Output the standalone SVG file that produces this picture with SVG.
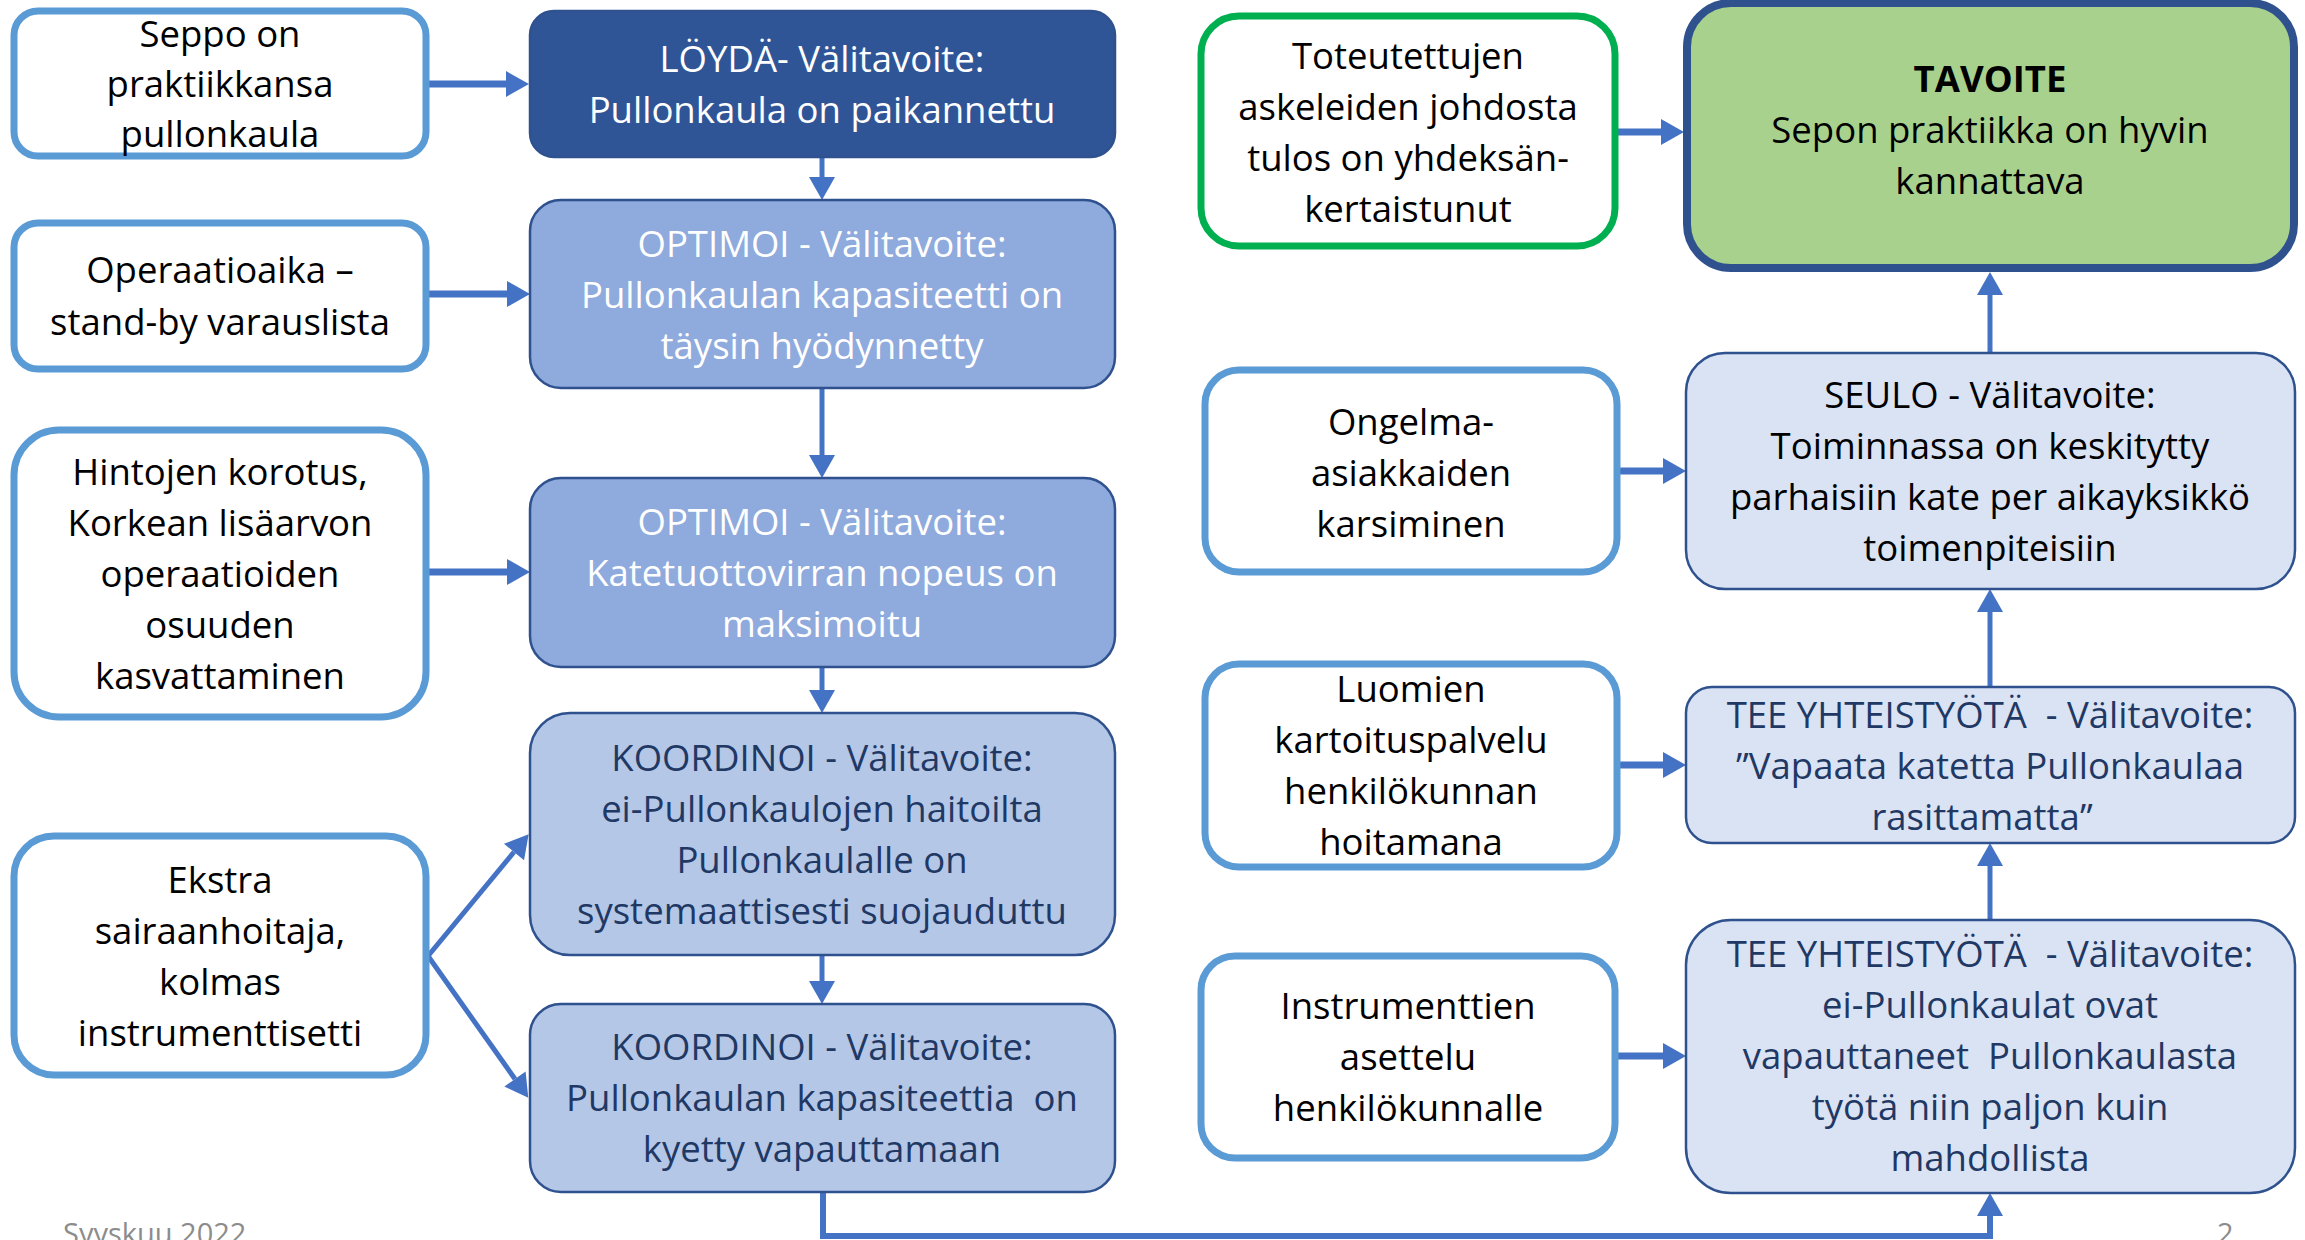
<svg xmlns="http://www.w3.org/2000/svg" width="2305" height="1240" viewBox="0 0 2305 1240">
<defs>
<style>
text{font-family:"Open Sans","Liberation Sans",sans-serif;font-size:36.5px;text-anchor:middle}
.w{fill:#ffffff}.k{fill:#000000}.n{fill:#1F3864}
.inp{fill:#ffffff;stroke:#5B9BD5;stroke-width:7}
.grn{fill:#ffffff;stroke:#00B050;stroke-width:7}
.s1{fill:#2F5597;stroke:#2F528F;stroke-width:2.5}
.s2{fill:#8FAADC;stroke:#2F528F;stroke-width:2.5}
.s3{fill:#B4C7E7;stroke:#2F528F;stroke-width:2.5}
.s4{fill:#DAE3F3;stroke:#2F528F;stroke-width:2.5}
.goal{fill:#A9D18E;stroke:#2F528F;stroke-width:8}
.c{fill:none;stroke:#4472C4}
.t{stroke-width:7}.m{stroke-width:5}
.foot{fill:#8C8C8C;font-size:29px;text-anchor:start}
</style>
<marker id="ah" markerUnits="userSpaceOnUse" markerWidth="24" markerHeight="26" refX="0" refY="13" orient="auto" overflow="visible">
<path d="M0,0 L23,13 L0,26 z" fill="#4472C4"/>
</marker>
</defs>

<g id="connectors">
<line class="c t" x1="429" y1="84" x2="506" y2="84" marker-end="url(#ah)"/>
<line class="c t" x1="429" y1="294" x2="507" y2="294" marker-end="url(#ah)"/>
<line class="c t" x1="429" y1="572" x2="507" y2="572" marker-end="url(#ah)"/>
<line class="c m" x1="822" y1="157" x2="822" y2="177" marker-end="url(#ah)"/>
<line class="c m" x1="822" y1="388" x2="822" y2="455" marker-end="url(#ah)"/>
<line class="c m" x1="822" y1="667" x2="822" y2="690" marker-end="url(#ah)"/>
<line class="c m" x1="822" y1="955" x2="822" y2="981" marker-end="url(#ah)"/>
<line class="c m" x1="428" y1="956" x2="514" y2="852" marker-end="url(#ah)"/>
<line class="c m" x1="428" y1="956" x2="515" y2="1079" marker-end="url(#ah)"/>
<path class="c" stroke-width="6" d="M823,1192 V1236 H1990 V1216" marker-end="url(#ah)"/>
<line class="c t" x1="1618" y1="132" x2="1661" y2="132" marker-end="url(#ah)"/>
<line class="c t" x1="1620" y1="471" x2="1663" y2="471" marker-end="url(#ah)"/>
<line class="c t" x1="1620" y1="765" x2="1663" y2="765" marker-end="url(#ah)"/>
<line class="c t" x1="1618" y1="1056" x2="1663" y2="1056" marker-end="url(#ah)"/>
<line class="c m" x1="1990" y1="353" x2="1990" y2="295" marker-end="url(#ah)"/>
<line class="c m" x1="1990" y1="687" x2="1990" y2="612" marker-end="url(#ah)"/>
<line class="c m" x1="1990" y1="920" x2="1990" y2="866" marker-end="url(#ah)"/>
</g>

<g id="seppo">
<rect class="inp" x="14" y="11" width="412" height="145" rx="24"/>
<text class="k" x="220" y="47">Seppo on</text>
<text class="k" x="220" y="97">praktiikkansa</text>
<text class="k" x="220" y="147">pullonkaula</text>
</g>
<g id="operaatioaika">
<rect class="inp" x="14" y="223" width="412" height="146" rx="24"/>
<text class="k" x="220" y="283">Operaatioaika –</text>
<text class="k" x="220" y="335">stand-by varauslista</text>
</g>
<g id="hintojen">
<rect class="inp" x="14" y="430" width="412" height="287" rx="45"/>
<text class="k" x="220" y="485">Hintojen korotus,</text>
<text class="k" x="220" y="536">Korkean lisäarvon</text>
<text class="k" x="220" y="587">operaatioiden</text>
<text class="k" x="220" y="638">osuuden</text>
<text class="k" x="220" y="689">kasvattaminen</text>
</g>
<g id="ekstra">
<rect class="inp" x="14" y="836" width="412" height="239" rx="40"/>
<text class="k" x="220" y="893">Ekstra</text>
<text class="k" x="220" y="944">sairaanhoitaja,</text>
<text class="k" x="220" y="995">kolmas</text>
<text class="k" x="220" y="1046">instrumenttisetti</text>
</g>

<g id="loyda">
<rect class="s1" x="530" y="11" width="585" height="146" rx="24"/>
<text class="w" x="822" y="72">LÖYDÄ- Välitavoite:</text>
<text class="w" x="822" y="123">Pullonkaula on paikannettu</text>
</g>
<g id="optimoi1">
<rect class="s2" x="530" y="200" width="585" height="188" rx="31"/>
<text class="w" x="822" y="257">OPTIMOI - Välitavoite:</text>
<text class="w" x="822" y="308">Pullonkaulan kapasiteetti on</text>
<text class="w" x="822" y="359">täysin hyödynnetty</text>
</g>
<g id="optimoi2">
<rect class="s2" x="530" y="478" width="585" height="189" rx="31"/>
<text class="w" x="822" y="535">OPTIMOI - Välitavoite:</text>
<text class="w" x="822" y="586">Katetuottovirran nopeus on</text>
<text class="w" x="822" y="637">maksimoitu</text>
</g>
<g id="koordinoi1">
<rect class="s3" x="530" y="713" width="585" height="242" rx="40"/>
<text class="n" x="822" y="771">KOORDINOI - Välitavoite:</text>
<text class="n" x="822" y="822">ei-Pullonkaulojen haitoilta</text>
<text class="n" x="822" y="873">Pullonkaulalle on</text>
<text class="n" x="822" y="924">systemaattisesti suojauduttu</text>
</g>
<g id="koordinoi2">
<rect class="s3" x="530" y="1004" width="585" height="188" rx="31"/>
<text class="n" x="822" y="1060">KOORDINOI - Välitavoite:</text>
<text class="n" x="822" y="1111" xml:space="preserve">Pullonkaulan kapasiteettia  on</text>
<text class="n" x="822" y="1162">kyetty vapauttamaan</text>
</g>

<g id="toteutettujen">
<rect class="grn" x="1201" y="16" width="414" height="230" rx="38"/>
<text class="k" x="1408" y="69">Toteutettujen</text>
<text class="k" x="1408" y="120">askeleiden johdosta</text>
<text class="k" x="1408" y="171">tulos on yhdeksän-</text>
<text class="k" x="1408" y="222">kertaistunut</text>
</g>
<g id="ongelma">
<rect class="inp" x="1205" y="370" width="412" height="202" rx="34"/>
<text class="k" x="1411" y="435">Ongelma-</text>
<text class="k" x="1411" y="486">asiakkaiden</text>
<text class="k" x="1411" y="537">karsiminen</text>
</g>
<g id="luomien">
<rect class="inp" x="1205" y="664" width="412" height="203" rx="34"/>
<text class="k" x="1411" y="702">Luomien</text>
<text class="k" x="1411" y="753">kartoituspalvelu</text>
<text class="k" x="1411" y="804">henkilökunnan</text>
<text class="k" x="1411" y="855">hoitamana</text>
</g>
<g id="instrumenttien">
<rect class="inp" x="1201" y="956" width="414" height="202" rx="34"/>
<text class="k" x="1408" y="1019">Instrumenttien</text>
<text class="k" x="1408" y="1070">asettelu</text>
<text class="k" x="1408" y="1121">henkilökunnalle</text>
</g>

<g id="tavoite">
<rect class="goal" x="1687" y="3" width="607" height="265" rx="44"/>
<text class="k" x="1990" y="92" font-weight="bold">TAVOITE</text>
<text class="k" x="1990" y="143">Sepon praktiikka on hyvin</text>
<text class="k" x="1990" y="194">kannattava</text>
</g>
<g id="seulo">
<rect class="s4" x="1686" y="353" width="609" height="236" rx="39"/>
<text class="k" x="1990" y="408">SEULO - Välitavoite:</text>
<text class="k" x="1990" y="459">Toiminnassa on keskitytty</text>
<text class="k" x="1990" y="510">parhaisiin kate per aikayksikkö</text>
<text class="k" x="1990" y="561">toimenpiteisiin</text>
</g>
<g id="tee1">
<rect class="s4" x="1686" y="687" width="609" height="156" rx="26"/>
<text class="n" x="1990" y="728" xml:space="preserve">TEE YHTEISTYÖTÄ  - Välitavoite:</text>
<text class="n" x="1990" y="779">”Vapaata katetta Pullonkaulaa</text>
<text class="n" x="1982" y="830">rasittamatta”</text>
</g>
<g id="tee2">
<rect class="s4" x="1686" y="920" width="609" height="273" rx="45"/>
<text class="n" x="1990" y="967" xml:space="preserve">TEE YHTEISTYÖTÄ  - Välitavoite:</text>
<text class="n" x="1990" y="1018">ei-Pullonkaulat ovat</text>
<text class="n" x="1990" y="1069" xml:space="preserve">vapauttaneet  Pullonkaulasta</text>
<text class="n" x="1990" y="1120">työtä niin paljon kuin</text>
<text class="n" x="1990" y="1171">mahdollista</text>
</g>

<g id="footer">
<text class="foot" x="63" y="1244">Syyskuu 2022</text>
<text class="foot" x="2217" y="1244">2</text>
</g>
</svg>
